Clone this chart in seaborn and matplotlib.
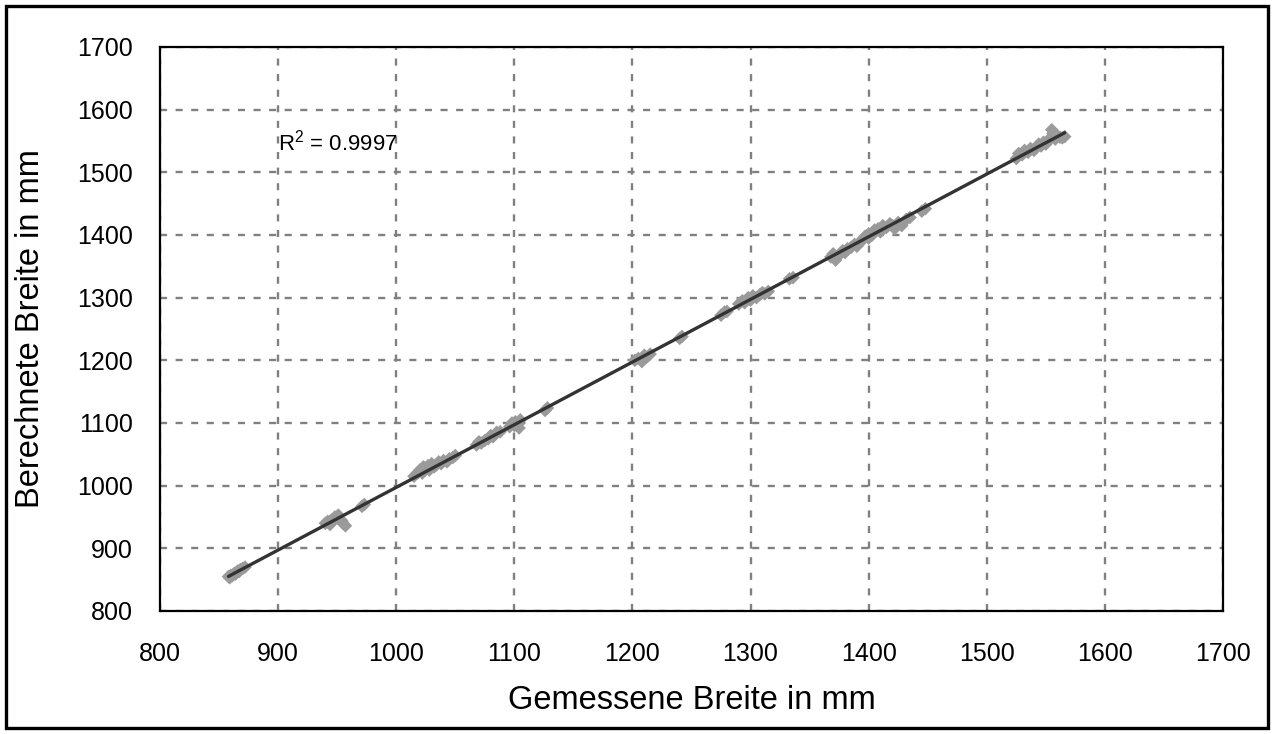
import matplotlib
matplotlib.use("Agg")
import matplotlib.pyplot as plt
from matplotlib.patches import Rectangle
import seaborn as sns
import pandas as pd

# Measured width (mm) and calculated width (mm)
gemessen = [858, 859, 860, 861, 862, 863, 864, 865, 866, 867, 868, 870, 872,
            940, 942, 944, 945, 946, 948, 950, 951, 952, 954, 955, 957,
            971, 973,
            1015, 1018, 1020, 1022, 1023, 1025, 1027, 1028, 1030, 1032, 1034, 1036, 1038, 1040, 1043, 1045, 1048, 1050,
            1068, 1070, 1072, 1075, 1078, 1080, 1082, 1085, 1088,
            1096, 1098, 1100, 1101, 1103, 1104, 1105,
            1126, 1128,
            1202, 1205, 1208, 1210, 1212, 1215,
            1240, 1242,
            1275, 1278, 1280,
            1290, 1293, 1295, 1298, 1300, 1302, 1305, 1308, 1310, 1312, 1315,
            1333, 1336,
            1368, 1370, 1372, 1375, 1378, 1380, 1382, 1385, 1388, 1390, 1392, 1395, 1397, 1400, 1400,
            1403, 1405, 1408, 1410, 1412, 1415, 1418, 1420, 1422, 1425, 1428, 1432, 1435,
            1445, 1448,
            1525, 1527, 1530, 1532, 1535, 1537, 1540, 1542, 1544, 1546, 1548, 1550, 1552, 1554, 1555, 1556, 1558, 1560, 1562, 1564, 1566]
berechnet = [855, 853, 857, 856, 858, 860, 859, 862, 864, 863, 866, 868, 870,
             940, 943, 938, 945, 944, 950, 948, 953, 946, 944, 940, 936,
             967, 970,
             1015, 1020, 1025, 1020, 1030, 1028, 1032, 1025, 1035, 1030, 1033, 1038, 1035, 1040, 1038, 1043, 1045, 1048,
             1065, 1070, 1068, 1072, 1075, 1080, 1078, 1085, 1086,
             1094, 1100, 1096, 1102, 1098, 1092, 1105,
             1120, 1124,
             1200, 1203, 1198, 1208, 1205, 1210,
             1235, 1238,
             1272, 1277, 1278,
             1290, 1295, 1292, 1300, 1296, 1303, 1300, 1305, 1308, 1306, 1310,
             1330, 1332,
             1365, 1370, 1360, 1368, 1375, 1372, 1378, 1380, 1385, 1382, 1388, 1392, 1398, 1395, 1402,
             1400, 1408, 1410, 1405, 1415, 1412, 1418, 1415, 1410, 1420, 1415, 1425, 1428,
             1438, 1442,
             1522, 1530, 1528, 1535, 1532, 1538, 1535, 1540, 1545, 1542, 1548, 1545, 1550, 1555, 1568, 1562, 1553, 1558, 1556, 1555, 1557]
ticks = [800, 900, 1000, 1100, 1200, 1300, 1400, 1500, 1600, 1700]
r2_text = "R$^2$ = 0.9997"
x_label = "Gemessene Breite in mm"
y_label = "Berechnete Breite in mm"

df = pd.DataFrame({"x": gemessen, "y": berechnet})

sns.set_style("white")
plt.rcParams["font.family"] = ["Liberation Sans", "DejaVu Sans"]
plt.rcParams["mathtext.fontset"] = "custom"
plt.rcParams["mathtext.rm"] = "Liberation Sans"
plt.rcParams["text.color"] = "black"
plt.rcParams["axes.labelcolor"] = "black"

fig = plt.figure(figsize=(12.72, 7.34), dpi=100)
ax = fig.add_axes([160 / 1272, 1 - 611 / 734, (1223 - 160) / 1272, (611 - 47) / 734])

sns.scatterplot(data=df, x="x", y="y", ax=ax, marker="D", s=48, color="#9a9a9a",
                edgecolor="none", zorder=3, legend=False)
sns.regplot(data=df, x="x", y="y", ax=ax, scatter=False, ci=None, truncate=True,
            line_kws={"color": "#333333", "lw": 2.4, "zorder": 4})

ax.set_xlim(800, 1700)
ax.set_ylim(800, 1700)
ax.set_xticks(ticks)
ax.set_yticks(ticks)
ax.set_xticklabels([str(t) for t in ticks], fontsize=18)
ax.set_yticklabels([str(t) for t in ticks], fontsize=18)
ax.grid(True, color="#808080", linestyle=(0, (3.0, 3.6)), linewidth=1.7, zorder=1)
ax.set_axisbelow(True)
for sp in ax.spines.values():
    sp.set_linewidth(1.6)
    sp.set_color("black")
ax.tick_params(axis="x", direction="inout", length=12, width=1.6, pad=16, colors="black")
ax.tick_params(axis="y", direction="out", length=9.5, width=1.6, pad=10, colors="black")
ax.set_xlabel(x_label, fontsize=23.5, labelpad=14)
ax.set_ylabel(y_label, fontsize=23.5, labelpad=22)

ax.text(900, 1547, r2_text, fontsize=16, va="center", ha="left", color="black")

fig.add_artist(Rectangle((6 / 1272, 6 / 734), 1262 / 1272, 722 / 734, transform=fig.transFigure,
                         fill=False, edgecolor="black", linewidth=2.4))

fig.savefig("out.png", dpi=100, facecolor="white")
